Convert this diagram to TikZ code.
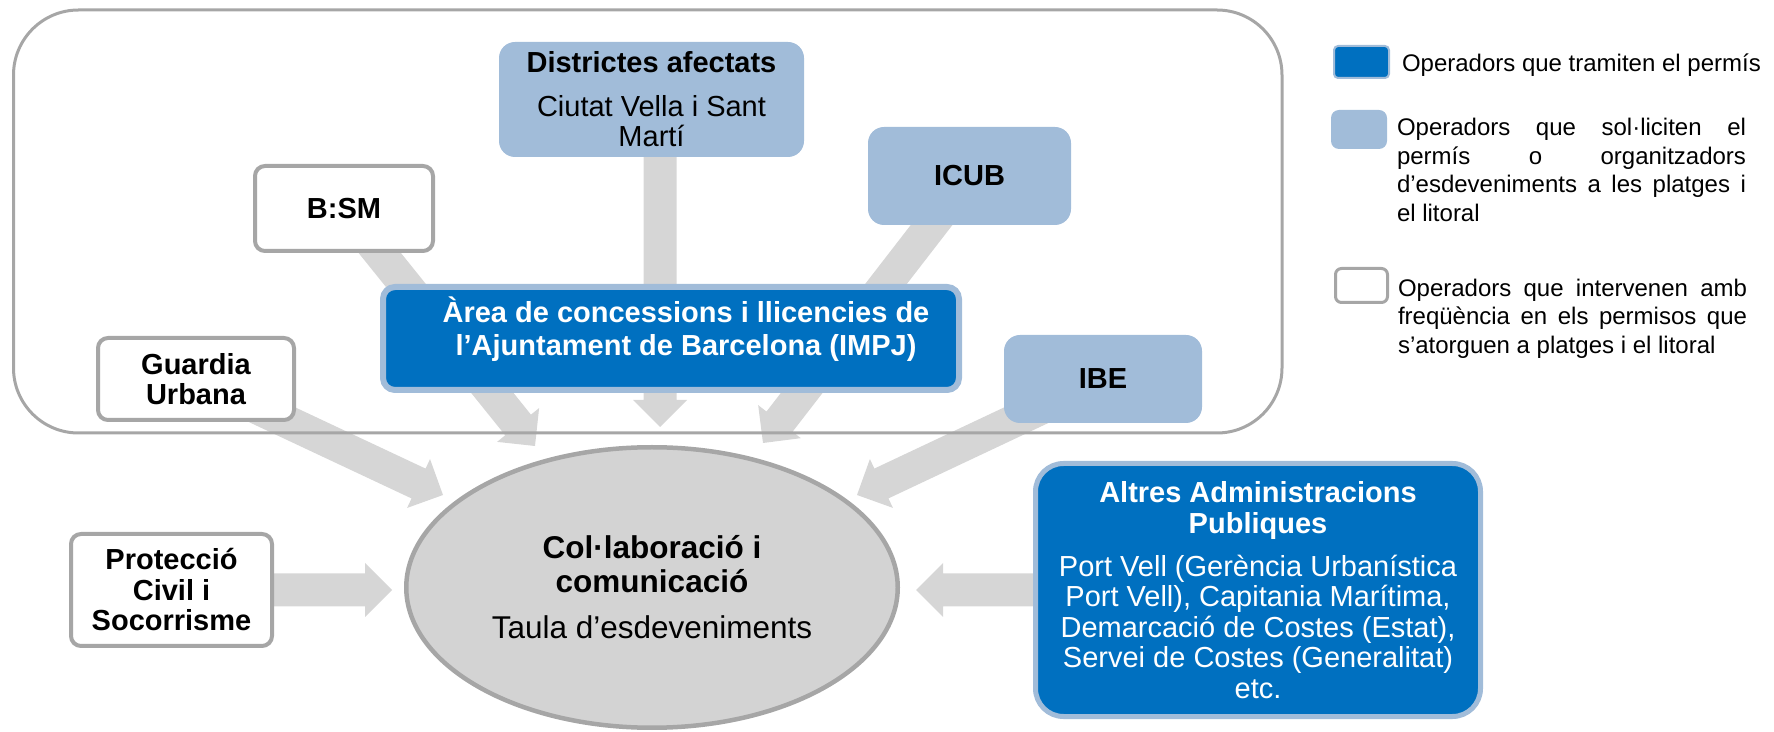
\documentclass[tikz,border=0pt]{standalone}
\usepackage{fontspec}
\setmainfont{Liberation Sans}
\usetikzlibrary{calc,shapes.geometric}
\definecolor{dblue}{HTML}{0070C0}
\definecolor{lblue}{HTML}{A1BCD9}
\definecolor{bgray}{HTML}{A6A6A6}
\definecolor{agray}{HTML}{D6D6D6}
\definecolor{egray}{HTML}{D3D3D3}
\pgfdeclarelayer{arrowlayer}
\pgfdeclarelayer{framelayer}
\pgfsetlayers{arrowlayer,framelayer,main}
\newcommand\flowarrow[2]{%
  \coordinate (fabase) at ($(#2)!13.5pt!(#1)$);
  \fill[flow] ($(#1)!8.25pt!90:(#2)$) -- ($(fabase)!8.25pt!90:(#2)$) -- ($(fabase)!13.5pt!90:(#2)$) -- (#2)
    -- ($(fabase)!13.5pt!-90:(#2)$) -- ($(fabase)!8.25pt!-90:(#2)$) -- ($(#1)!8.25pt!-90:(#2)$) -- cycle;}
\begin{document}
\begin{tikzpicture}[x=0.5pt,y=-0.5pt,
  every node/.style={inner sep=0pt,outer sep=0pt},
  txt/.style={font=\fontsize{14.5}{15.25}\selectfont, align=center},
  whitebox/.style={txt, draw=bgray, line width=2pt, fill=white, rounded corners=5pt, font=\fontsize{14.5}{15.25}\selectfont\bfseries},
  lightbox/.style={txt, fill=lblue, rounded corners=8pt},
  darkbox/.style={txt, fill=dblue, draw=lblue, line width=3pt, rounded corners=6pt, text=white},
  flow/.style={fill=agray},
  legtxt/.style={font=\fontsize{12}{14.25}\selectfont, align=left},
]
\useasboundingbox (0,0) rectangle (1774,732);

% boxes
\node[lightbox, minimum width=152.5pt, minimum height=57.5pt] (dist) at (651.5,99.5)
  {\textbf{Districtes afectats}\\[6.4pt]Ciutat Vella i Sant\\Martí};
\node[whitebox, minimum width=89pt, minimum height=42.5pt] (bsm) at (344,208.5) {B:SM};
\node[lightbox, minimum width=101.5pt, minimum height=49pt] (icub) at (969.5,176) {\textbf{ICUB}};
\node[whitebox, minimum width=98pt, minimum height=41pt] (guard) at (196,379) {Guardia\\Urbana};
\node[darkbox, minimum width=288pt, minimum height=51.5pt] (area) at (671,338.5) {};
\node[txt, text=white, font=\fontsize{14.5}{16.4}\selectfont\bfseries] (areatxt) at (686,329)
  {Àrea de concessions i llicencies de\\l’Ajuntament de Barcelona (IMPJ)};
\node[lightbox, minimum width=99pt, minimum height=44pt] (ibe) at (1103,379) {\textbf{IBE}};
\node[whitebox, minimum width=100.5pt, minimum height=56pt] (prot) at (171.5,590) {Protecció\\Civil i\\Socorrisme};
\node[darkbox, line width=2.5pt, rounded corners=14pt, minimum width=222.5pt, minimum height=126.5pt] (altres) at (1258,590)
  {\textbf{Altres Administracions}\\\textbf{Publiques}\\[6.3pt]Port Vell (Gerència Urbanística\\Port Vell), Capitania Marítima,\\Demarcació de Costes (Estat),\\Servei de Costes (Generalitat)\\etc.};
\node[ellipse, draw=bgray, fill=egray, line width=2.25pt, minimum width=245.75pt, minimum height=140.25pt,
  align=center, font=\fontsize{15.75}{16.67}\selectfont] (core) at (652,587.5)
  {\textbf{Col·laboració i}\\\textbf{comunicació}\\[6.7pt]Taula d’esdeveniments};

% legend
\node[fill=dblue, draw=lblue, line width=1pt, rounded corners=2pt, minimum width=27.5pt, minimum height=16pt] (leg1) at (1361.5,62) {};
\node[legtxt, anchor=base west] (leg1t) at (1402,71.7) {Operadors que tramiten el permís};
\node[fill=lblue, rounded corners=4pt, minimum width=28pt, minimum height=19.5pt] (leg2) at (1359,129.5) {};
\node[legtxt, anchor=north west] (leg2t) at (1397,118.5)
  {\makebox[174.5pt][s]{Operadors que sol·liciten el}\\\makebox[174.5pt][s]{permís o organitzadors}\\\makebox[174.5pt][s]{d’esdeveniments a les platges i}\\el litoral};
\node[fill=white, draw=bgray, line width=1.5pt, rounded corners=3pt, minimum width=26pt, minimum height=17pt] (leg3) at (1361.5,285.5) {};
\node[legtxt, anchor=north west] (leg3t) at (1398,279)
  {\makebox[174.5pt][s]{Operadors que intervenen amb}\\\makebox[174.5pt][s]{freqüència en els permisos que}\\s’atorguen a platges i el litoral};

% frame
\begin{pgfonlayer}{framelayer}
\draw[bgray, line width=1.5pt, rounded corners=32.5pt] (13.5,10) rectangle (1282,433);
\end{pgfonlayer}

% arrow tips
\coordinate (tB) at (535,446);
\coordinate (tD) at (660,427);
\coordinate (tI) at (763,443);
\coordinate (tG) at (443,495);
\coordinate (tE) at (857,495);
\coordinate (tP) at (392,590);
\coordinate (tA) at (916,590);
\coordinate (sD) at (tD |- dist.center);

\begin{pgfonlayer}{arrowlayer}
\flowarrow{bsm.center}{tB}
\flowarrow{sD}{tD}
\flowarrow{icub.center}{tI}
\flowarrow{guard.center}{tG}
\flowarrow{ibe.center}{tE}
\flowarrow{prot.center}{tP}
\flowarrow{altres.center}{tA}
\end{pgfonlayer}
\end{tikzpicture}
\end{document}
